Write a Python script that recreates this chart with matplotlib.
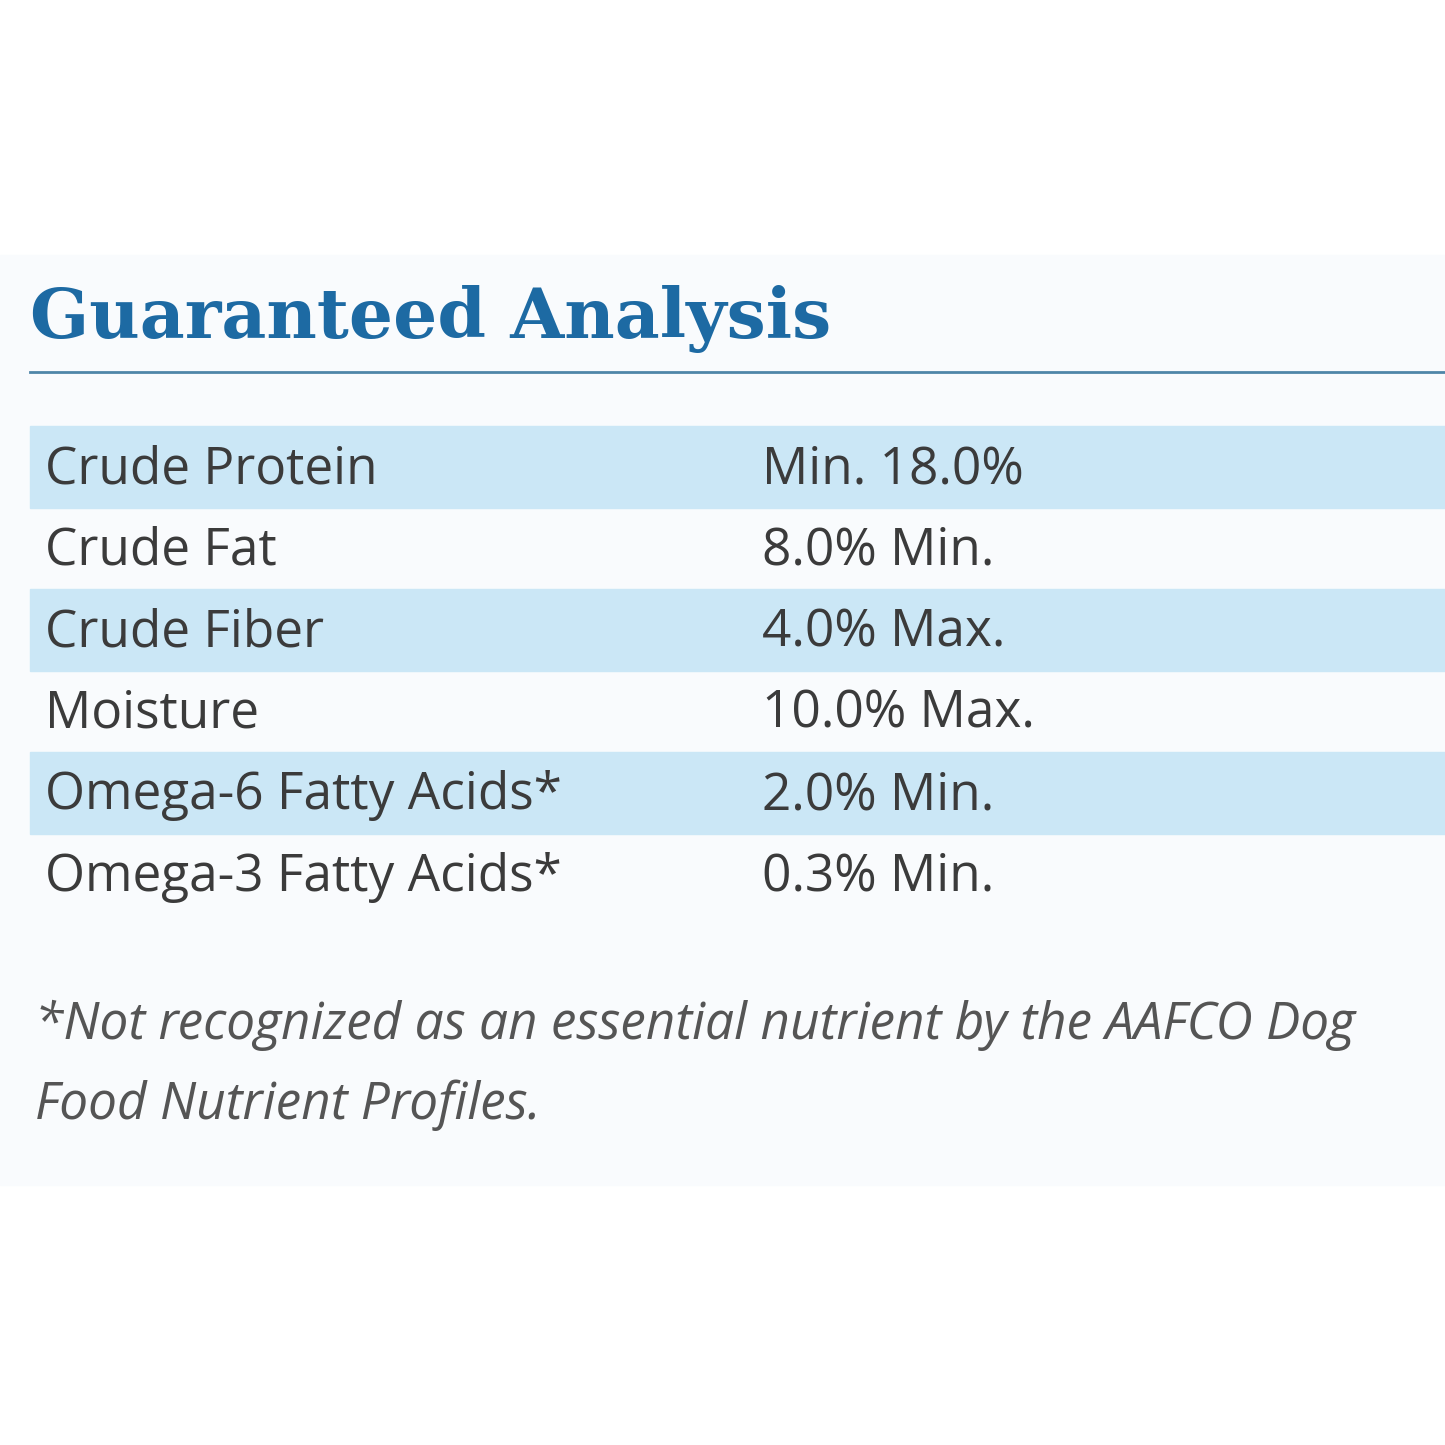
import matplotlib
matplotlib.use("Agg")
import matplotlib.pyplot as plt
from matplotlib.patches import Rectangle

title = "Guaranteed Analysis"
nutrients = ["Crude Protein", "Crude Fat", "Crude Fiber", "Moisture",
             "Omega-6 Fatty Acids*", "Omega-3 Fatty Acids*"]
values = ["Min. 18.0%", "8.0% Min.", "4.0% Max.", "10.0% Max.", "2.0% Min.", "0.3% Min."]
footnote = ["*Not recognized as an essential nutrient by the AAFCO Dog",
            "Food Nutrient Profiles."]

fig = plt.figure(figsize=(14.45, 14.45), dpi=100)
ax = fig.add_axes([0, 0, 1, 1])
ax.set_xlim(0, 1445); ax.set_ylim(1445, 0); ax.axis("off")

ax.add_patch(Rectangle((0, 255), 1445, 930, color="#f9fbfd", zorder=0))
ax.text(30, 338, title, fontsize=50, fontweight="heavy", family="DejaVu Serif",
        color="#1d6aa3", va="baseline")
ax.plot([30, 1445], [372, 372], color="#4f86a8", lw=2)

row_h = 81.5
top = 426
for i, (n, v) in enumerate(zip(nutrients, values)):
    y0 = top + i * row_h
    if i % 2 == 0:
        ax.add_patch(Rectangle((30, y0), 1415, row_h, color="#cbe7f6", zorder=1))
    yc = y0 + row_h / 2 + 3
    ax.text(45, yc, n, fontsize=37, family="Open Sans", color="#3b3b3b", va="center", zorder=2)
    ax.text(762, yc, v, fontsize=37, family="Open Sans", color="#3b3b3b", va="center", zorder=2)

for j, line in enumerate(footnote):
    ax.text(35, 1025 + j * 80, line, fontsize=37, family="Open Sans", style="italic",
            color="#555555", va="center")

fig.savefig("out.png", dpi=100, facecolor="white")
